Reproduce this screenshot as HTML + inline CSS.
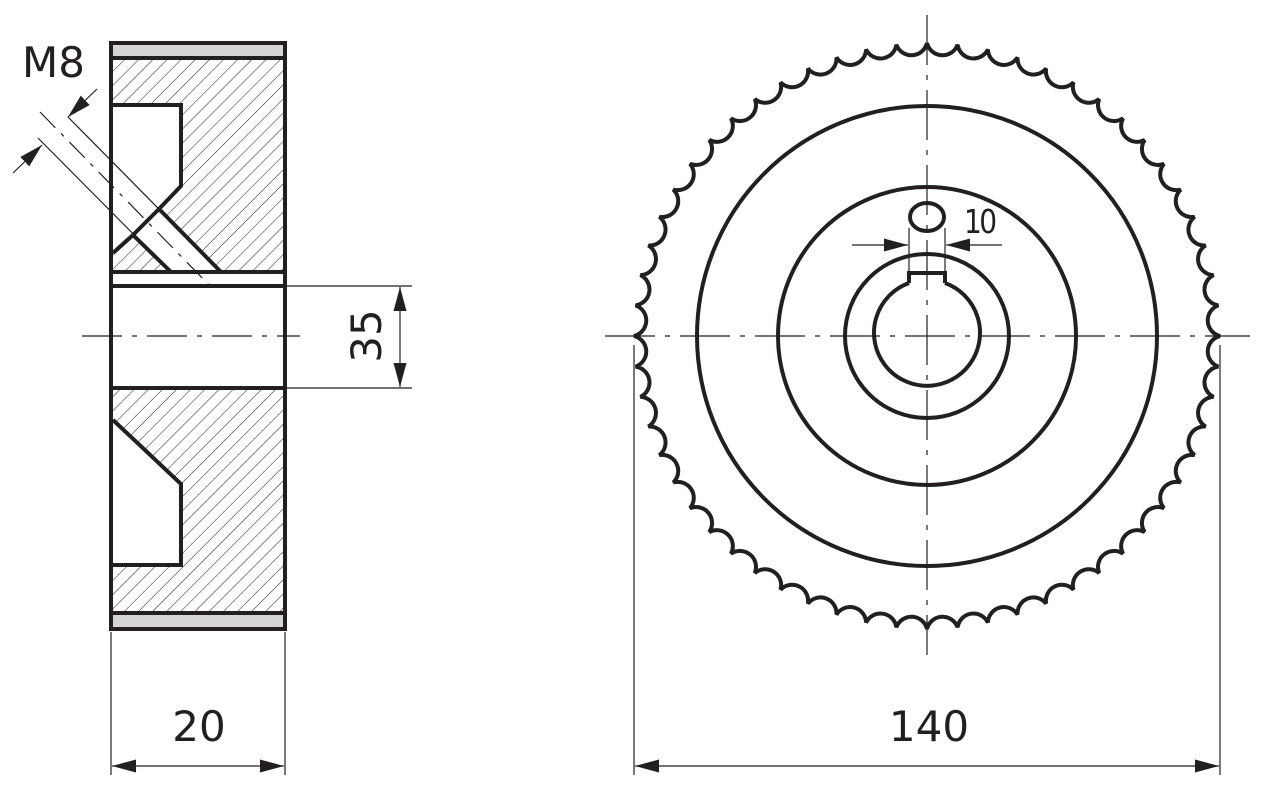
<!DOCTYPE html>
<html><head><meta charset="utf-8"><style>
html,body{margin:0;padding:0;background:#fff;width:1270px;height:793px;overflow:hidden}
svg{display:block}
text{font-family:"DejaVu Sans","Liberation Sans",sans-serif;fill:#231f20}
</style></head><body>
<svg id="s" width="1270" height="793" viewBox="0 0 1270 793" xmlns="http://www.w3.org/2000/svg">
<defs>
<pattern id="h" patternUnits="userSpaceOnUse" width="10" height="10" patternTransform="rotate(45)">
<line x1="0" y1="0" x2="0" y2="10" stroke="#231f20" stroke-width="1"/>
</pattern>
<marker id="a" viewBox="0 0 24 13" refX="24" refY="6.5" markerWidth="24" markerHeight="13" markerUnits="userSpaceOnUse" orient="auto">
<path d="M0,0 L24,6.5 L0,13 z" fill="#231f20"/>
</marker>
</defs>
<g stroke="#231f20" fill="none">
<rect x="113" y="44" width="170" height="14" fill="#d4d4d6" stroke="none"/>
<rect x="113" y="615" width="170" height="13" fill="#d4d4d6" stroke="none"/>
<rect x="113" y="58" width="170" height="214" fill="url(#h)" stroke="none"/>
<rect x="113" y="388" width="170" height="225" fill="url(#h)" stroke="none"/>
<polygon points="113,105 181,105 181,186 113,252" fill="#fff" stroke="none"/>
<polygon points="159,210 220,272 172,272 133,235" fill="#fff" stroke="none"/>
<polygon points="113,420 181,484 181,565 113,565" fill="#fff" stroke="none"/>
<g stroke-width="4">
<rect x="111" y="43" width="174" height="586"/>
<line x1="111" y1="58" x2="285" y2="58"/>
<line x1="111" y1="272" x2="285" y2="272"/>
<line x1="111" y1="286" x2="285" y2="286"/>
<line x1="111" y1="388" x2="285" y2="388"/>
<line x1="111" y1="613" x2="285" y2="613"/>
<polyline points="113,105 181,105 181,186 159,209"/>
<line x1="133" y1="235" x2="113" y2="253"/>
<line x1="159" y1="209" x2="133" y2="235"/>
<line x1="159" y1="209" x2="221" y2="272"/>
<line x1="133" y1="235" x2="171" y2="272"/>
<polyline points="113,420 181,484 181,565 113,565"/>
</g>
<g stroke-width="1.2">
<line x1="68" y1="117" x2="221" y2="272"/>
<line x1="38" y1="138" x2="171" y2="272"/>
<line x1="40" y1="112" x2="214" y2="290" stroke-dasharray="22,8,4,8"/>
<line x1="97" y1="89" x2="68" y2="117" marker-end="url(#a)"/>
<line x1="13" y1="173" x2="42" y2="145" marker-end="url(#a)"/>
<line x1="82" y1="336" x2="300" y2="336" stroke-dasharray="40,10,5,10"/>
<line x1="286" y1="286" x2="412" y2="286"/>
<line x1="286" y1="388" x2="412" y2="388"/>
<line x1="400" y1="336" x2="400" y2="287" marker-end="url(#a)"/>
<line x1="400" y1="336" x2="400" y2="387" marker-end="url(#a)"/>
<line x1="111" y1="632" x2="111" y2="775"/>
<line x1="285" y1="632" x2="285" y2="775"/>
<line x1="198" y1="766" x2="112" y2="766" marker-end="url(#a)"/>
<line x1="198" y1="766" x2="284" y2="766" marker-end="url(#a)"/>
<line x1="605" y1="336" x2="1250" y2="336" stroke-dasharray="50,10,5,10"/>
<line x1="927" y1="15" x2="927" y2="655" stroke-dasharray="50,10,5,10"/>
<line x1="634" y1="345" x2="634" y2="775"/>
<line x1="1220" y1="345" x2="1220" y2="775"/>
<line x1="927" y1="766" x2="635" y2="766" marker-end="url(#a)"/>
<line x1="927" y1="766" x2="1219" y2="766" marker-end="url(#a)"/>
<line x1="909" y1="228" x2="909" y2="272"/>
<line x1="945" y1="228" x2="945" y2="272"/>
<line x1="852" y1="245" x2="908" y2="245" marker-end="url(#a)"/>
<line x1="1002" y1="245" x2="946" y2="245" marker-end="url(#a)"/>
</g>
<g stroke-width="4">
<circle cx="927" cy="336" r="230"/>
<circle cx="927" cy="336" r="149"/>
<circle cx="927" cy="336" r="82"/>
<ellipse cx="927" cy="217" rx="17" ry="14"/>
<path d="M909,283 L909,273 L945,273 L945,283"/>
<path d="M909,283 A53,53 0 1 0 945,283"/>
<path id="k" d=""/>
</g>
</g>
<text x="22" y="77" font-size="42">M8</text>
<text x="0" y="0" font-size="42" transform="translate(381,336) rotate(-90)" text-anchor="middle">35</text>
<text x="199" y="741" font-size="42" text-anchor="middle">20</text>
<text x="929" y="741" font-size="42" text-anchor="middle">140</text>
<text x="964" y="233" font-size="33" letter-spacing="-3" transform="translate(964,233) scale(0.85,1) translate(-964,-233)">10</text>
</svg>
<script>
(function(){var cx=927,cy=336,R=293,n=60,d="";
for(var i=0;i<=n;i++){var t=(i*6-90)*Math.PI/180;var x=(cx+R*Math.cos(t)).toFixed(2),y=(cy+R*Math.sin(t)).toFixed(2);
if(i==0)d+="M"+x+","+y;else d+=" A16,16 0 0 0 "+x+","+y;}
document.getElementById("k").setAttribute("d",d);})();
</script>
</body></html>
